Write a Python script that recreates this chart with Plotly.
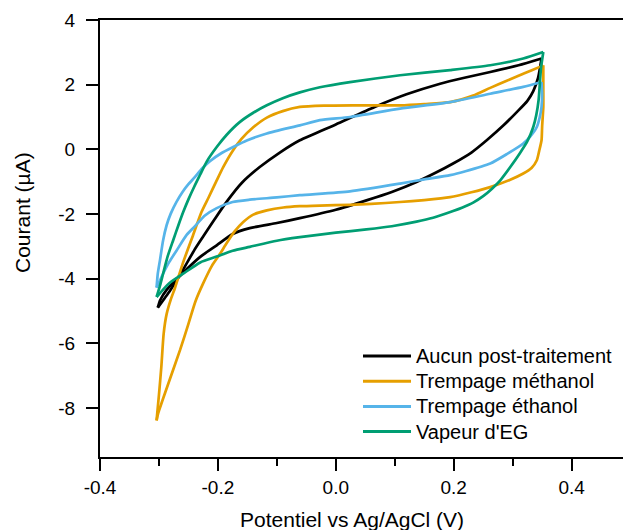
import plotly.graph_objects as go

# ---------------- data ----------------
labels = ["Aucun post-traitement", "Trempage méthanol", "Trempage éthanol", "Vapeur d'EG"]
colors = ["#000000", "#E69F00", "#56B4E9", "#009E73"]

x_tick_vals = [-0.4, -0.2, 0.0, 0.2, 0.4]
x_tick_text = ["-0.4", "-0.2", "0.0", "0.2", "0.4"]
y_tick_vals = [-8, -6, -4, -2, 0, 2, 4]
y_tick_text = ["-8", "-6", "-4", "-2", "0", "2", "4"]

# Aucun post-traitement (black)
aucun_fwd_x = [-0.302, -0.290, -0.281, -0.270, -0.259, -0.240, -0.225, -0.205, -0.185, -0.160,
               -0.129, -0.095, -0.061, 0.0, 0.066, 0.12, 0.177, 0.22, 0.262, 0.31, 0.349]
aucun_fwd_y = [-4.90, -4.60, -4.37, -4.05, -3.72, -3.12, -2.70, -2.15, -1.62, -1.05,
               -0.55, -0.10, 0.28, 0.77, 1.31, 1.70, 2.03, 2.22, 2.39, 2.60, 2.81]
aucun_rev_x = [0.349, 0.343, 0.335, 0.325, 0.307, 0.285, 0.256, 0.230, 0.199, 0.170, 0.137,
               0.095, 0.052, 0.0, -0.061, -0.100, -0.146, -0.175, -0.202, -0.230, -0.259,
               -0.287, -0.298, -0.302]
aucun_rev_y = [2.81, 2.20, 1.80, 1.50, 1.15, 0.75, 0.28, -0.10, -0.44, -0.72, -1.01,
               -1.32, -1.58, -1.87, -2.13, -2.28, -2.44, -2.62, -2.97, -3.33, -3.82,
               -4.35, -4.67, -4.90]

# Trempage méthanol (orange)
meth_fwd_x = [-0.304, -0.300, -0.296, -0.292, -0.287, -0.280, -0.273, -0.259, -0.242, -0.228,
              -0.216, -0.203, -0.191, -0.175, -0.160, -0.140, -0.117, -0.090, -0.061, -0.02,
              0.03, 0.109, 0.15, 0.194, 0.233, 0.262, 0.290, 0.320, 0.346, 0.352]
meth_fwd_y = [-8.39, -7.60, -6.74, -5.70, -5.10, -4.65, -4.30, -3.50, -2.65, -1.95,
              -1.50, -1.00, -0.55, -0.05, 0.32, 0.68, 0.98, 1.18, 1.31, 1.35,
              1.36, 1.36, 1.40, 1.46, 1.66, 1.90, 2.12, 2.35, 2.55, 2.60]
meth_rev_x = [0.352, 0.352, 0.352, 0.350, 0.349, 0.345, 0.341, 0.332, 0.318, 0.295, 0.262, 0.230,
              0.194, 0.150, 0.109, 0.060, 0.024, -0.027, -0.061, -0.089, -0.117, -0.140, -0.157,
              -0.172, -0.185, -0.197, -0.210, -0.225, -0.238, -0.250, -0.264, -0.287, -0.301, -0.304]
meth_rev_y = [2.60, 1.90, 1.31, 0.70, 0.28, -0.05, -0.34, -0.58, -0.75, -0.95, -1.17, -1.33,
              -1.48, -1.57, -1.63, -1.69, -1.72, -1.74, -1.76, -1.80, -1.89, -2.02, -2.25,
              -2.55, -2.90, -3.25, -3.60, -4.15, -4.70, -5.40, -6.20, -7.40, -8.15, -8.39]

# Trempage éthanol (blue)
eth_fwd_x = [-0.304, -0.302, -0.298, -0.293, -0.287, -0.280, -0.270, -0.260, -0.250, -0.240,
             -0.226, -0.213, -0.195, -0.174, -0.150, -0.117, -0.061, -0.027, 0.024, 0.109,
             0.194, 0.262, 0.318, 0.349]
eth_fwd_y = [-4.28, -3.85, -3.40, -2.82, -2.35, -1.99, -1.62, -1.32, -1.08, -0.88,
             -0.58, -0.36, -0.13, 0.07, 0.28, 0.49, 0.74, 0.90, 1.00, 1.26,
             1.46, 1.72, 1.93, 2.08]
eth_rev_x = [0.349, 0.350, 0.349, 0.346, 0.341, 0.330, 0.318, 0.290, 0.262, 0.220, 0.194, 0.150,
             0.109, 0.024, -0.061, -0.100, -0.146, -0.175, -0.202, -0.222, -0.240, -0.253,
             -0.270, -0.283, -0.293, -0.304]
eth_rev_y = [2.08, 1.70, 1.31, 1.00, 0.69, 0.40, 0.18, -0.15, -0.44, -0.68, -0.80, -0.93,
             -1.06, -1.30, -1.42, -1.49, -1.56, -1.63, -1.82, -2.05, -2.40, -2.65,
             -3.13, -3.50, -3.85, -4.28]

# Vapeur d'EG (green)
eg_fwd_x = [-0.304, -0.298, -0.293, -0.285, -0.276, -0.267, -0.259, -0.250, -0.240, -0.230,
            -0.219, -0.202, -0.185, -0.163, -0.140, -0.117, -0.090, -0.061, -0.027, 0.024,
            0.109, 0.194, 0.262, 0.318, 0.352]
eg_fwd_y = [-4.57, -4.20, -3.85, -3.30, -2.82, -2.35, -1.95, -1.55, -1.15, -0.78,
            -0.38, 0.07, 0.45, 0.84, 1.13, 1.36, 1.58, 1.76, 1.92, 2.08,
            2.29, 2.45, 2.60, 2.81, 3.01]
eg_rev_x = [0.352, 0.348, 0.344, 0.340, 0.335, 0.325, 0.312, 0.296, 0.279, 0.265, 0.250, 0.233,
            0.215, 0.199, 0.165, 0.137, 0.095, 0.052, 0.0, -0.061, -0.100, -0.146, -0.175,
            -0.202, -0.230, -0.259, -0.283, -0.304]
eg_rev_y = [3.01, 2.50, 1.52, 1.05, 0.69, 0.25, -0.13, -0.55, -0.96, -1.22, -1.45, -1.65,
            -1.80, -1.91, -2.12, -2.24, -2.38, -2.48, -2.58, -2.72, -2.83, -3.02, -3.14,
            -3.32, -3.50, -3.85, -4.15, -4.57]

series = [
    (aucun_fwd_x, aucun_fwd_y, aucun_rev_x, aucun_rev_y),
    (meth_fwd_x, meth_fwd_y, meth_rev_x, meth_rev_y),
    (eth_fwd_x, eth_fwd_y, eth_rev_x, eth_rev_y),
    (eg_fwd_x, eg_fwd_y, eg_rev_x, eg_rev_y),
]

FONT = "Liberation Sans, Arial, sans-serif"

fig = go.Figure()
for (fx, fy, rx, ry), name, col in zip(series, labels, colors):
    for bx, by in ((fx, fy), (rx, ry)):
        fig.add_trace(go.Scatter(
            x=bx, y=by, mode="lines", name=name, legendgroup=name, showlegend=False,
            line=dict(color=col, width=2.7, shape="spline", smoothing=0.6),
            hoverinfo="skip",
        ))

# figure fills the whole window (body margin removed in the page, see write_html)
W, H = 623, 530
PLOT_L, PLOT_T, PLOT_R, PLOT_B = 100, 20, 623, 457   # window pixels of the plot area
L, T = PLOT_L, PLOT_T
R = W - PLOT_R
B = H - PLOT_B
pw, ph = PLOT_R - PLOT_L, PLOT_B - PLOT_T


def px_x(p):
    return (p - PLOT_L) / pw


def px_y(p):
    return (PLOT_B - p) / ph


# custom legend (sample line + text) placed in paper coordinates
row_y0, row_step = 356, 25.2
shapes = []
annotations = []
for i, (name, col) in enumerate(zip(labels, colors)):
    yy = px_y(row_y0 + i * row_step)
    shapes.append(dict(type="line", xref="paper", yref="paper",
                       x0=px_x(363), x1=px_x(411), y0=yy, y1=yy,
                       line=dict(color=col, width=3)))
    annotations.append(dict(xref="paper", yref="paper", x=px_x(414), y=yy,
                            text=name, showarrow=False, xanchor="left", yanchor="middle",
                            font=dict(family=FONT, size=20, color="black")))

# axis titles
annotations.append(dict(xref="paper", yref="paper", x=px_x(352), y=px_y(519),
                        text="Potentiel vs Ag/AgCl (V)", showarrow=False,
                        xanchor="center", yanchor="middle",
                        font=dict(family=FONT, size=21, color="black")))
annotations.append(dict(xref="paper", yref="paper", x=px_x(22), y=px_y(213),
                        text="Courant (µA)", showarrow=False, textangle=-90,
                        xanchor="center", yanchor="middle",
                        font=dict(family=FONT, size=21, color="black")))

fig.update_layout(
    width=W, height=H, autosize=False,
    margin=dict(l=L, r=R, t=T, b=B, pad=0),
    paper_bgcolor="white", plot_bgcolor="white",
    font=dict(family=FONT, size=19, color="black"),
    showlegend=False,
    shapes=shapes, annotations=annotations,
    xaxis=dict(
        range=[-0.4, -0.4 + pw / 589.5],
        tickmode="array", tickvals=x_tick_vals, ticktext=x_tick_text,
        ticks="outside", ticklen=12, tickwidth=2, tickcolor="black",
        minor=dict(tickmode="linear", tick0=-0.4, dtick=0.1, ticks="outside",
                   ticklen=7, tickwidth=2, tickcolor="black", showgrid=False),
        showline=True, linewidth=2, linecolor="black", mirror=True,
        showgrid=False, zeroline=False, automargin=False,
        tickfont=dict(family=FONT, size=19, color="black"),
    ),
    yaxis=dict(
        range=[-9.52, 4.0],
        tickmode="array", tickvals=y_tick_vals, ticktext=y_tick_text,
        ticks="outside", ticklen=12, tickwidth=2, tickcolor="black",
        showline=True, linewidth=2, linecolor="black", mirror=False,
        showgrid=False, zeroline=False, automargin=False, ticklabelstandoff=7,
        tickfont=dict(family=FONT, size=19, color="black"),
    ),
)

fig.write_html(
    "out.html",
    config={"displayModeBar": False, "staticPlot": True},
    post_script="document.body.style.margin='0px';document.body.style.overflow='hidden';",
)
